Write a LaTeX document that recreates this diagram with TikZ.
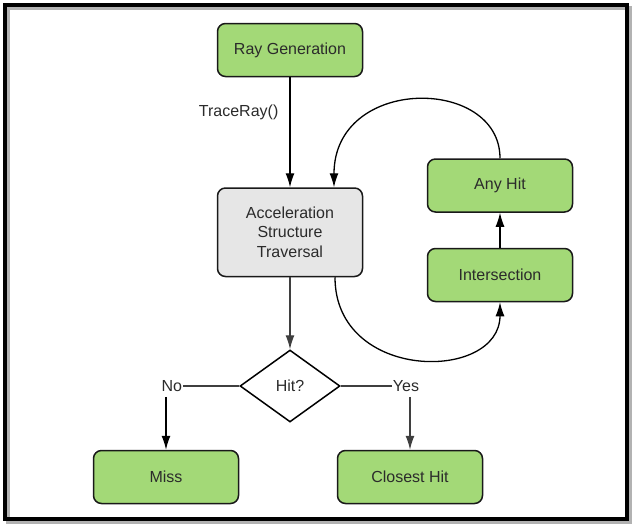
\documentclass[tikz,border=0pt]{standalone}
\usepackage{fontspec}
\setmainfont{Liberation Sans}
\usepackage{tikz}
\usetikzlibrary{arrows.meta, shapes.geometric, positioning}
\definecolor{stagegreen}{HTML}{A3D977}
\definecolor{travgray}{HTML}{E6E6E6}
\definecolor{darkline}{HTML}{3F3F3F}
\definecolor{textgray}{HTML}{2B2B2B}

\begin{document}
\begin{tikzpicture}[x=1pt, y=1pt,
        stage/.style={rectangle, rounded corners=8pt, draw=black!90, line width=1.5pt, fill=stagegreen, minimum width=145pt, minimum height=53pt, align=center, text=textgray, font=\fontsize{16}{19.5}\selectfont},
        trav/.style={stage, fill=travgray, minimum height=88.5pt},
        decision/.style={diamond, draw=black, line width=1.5pt, minimum width=100pt, minimum height=72pt, inner sep=0pt, text=textgray, font=\fontsize{16}{19.5}\selectfont},
        lbl/.style={inner sep=1pt, text=textgray, font=\fontsize{16}{19.5}\selectfont},
        flow/.style={line width=1.3pt, -{Latex[length=14pt, width=9pt]}}]
        \useasboundingbox (0,0) rectangle (638,-530);
        % frame with its shadow
        \draw[line width=4pt, black!30] (8,-8) rectangle (630,-522);
        \draw[line width=4pt, black] (5,-5) rectangle (627,-519);

        \node[stage] (raygen) at (290,-50) {Ray Generation};
        \node[trav] (accel) [below = 110pt of raygen] {Acceleration\\Structure\\Traversal};
        \node[decision] (hit) [below = 72pt of accel] {Hit?};
        \node[stage] (miss) [below = 27pt of hit, xshift=-124pt] {Miss};
        \node[stage] (closest) [below = 27pt of hit, xshift=120pt] {Closest Hit};
        \node[stage] (anyhit) at (500,-185.5) {Any Hit};
        \node[stage] (inter) [below = 35pt of anyhit] {Intersection};

        \node[lbl] (no) [left = 56pt of hit] {No};
        \node[lbl] (yes) [right = 51pt of hit] {Yes};

        \path[flow] (raygen) edge [black] node[lbl, left=10pt, pos=0.32] {TraceRay()} (accel);
        \path[flow] (accel) edge [darkline] (hit);
        \path[flow] (inter) edge [black] (anyhit);
        \draw[line width=1.3pt, darkline] (hit.west) -- (no.east);
        \draw[line width=1.3pt, darkline] (hit.east) -- (yes.west);
        \draw[flow, black] ([yshift=-4pt]no.south -| miss.north) -- (miss.north);
        \draw[flow, darkline] ([yshift=-4pt]yes.south -| closest.north) -- (closest.north);

        \draw[flow, black] (anyhit.north) .. controls +(0,82) and +(0,112) .. ([xshift=44pt]accel.north);
        \draw[flow, black] ([xshift=45pt]accel.south) .. controls +(0,-105) and +(0,-80) .. (inter.south);
    \end{tikzpicture}
\end{document}
